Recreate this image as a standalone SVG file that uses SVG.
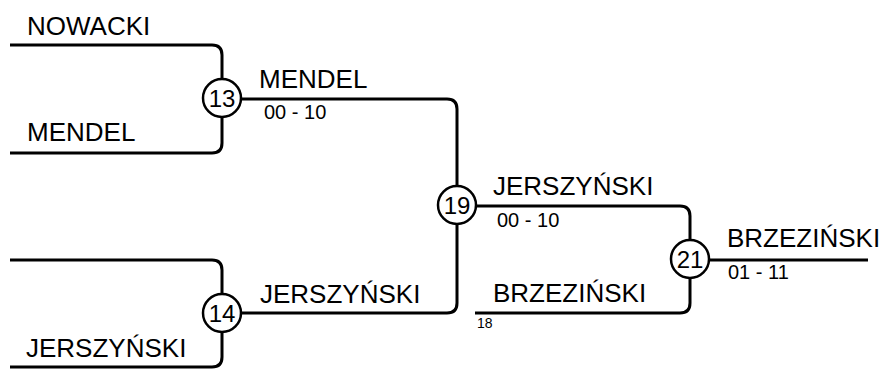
<svg xmlns="http://www.w3.org/2000/svg" width="882" height="372" viewBox="0 0 882 372">
<style>
.ln{fill:none;stroke:#000;stroke-width:3;stroke-linejoin:round}
.c{fill:#fff;stroke:#000;stroke-width:2.5}
.t{font-family:"Liberation Sans",Arial,sans-serif;font-size:26px;fill:#000}
.s{font-family:"Liberation Sans",Arial,sans-serif;font-size:20px;fill:#000}
.n{font-family:"Liberation Sans",Arial,sans-serif;font-size:24px;fill:#000;text-anchor:middle}
.x{font-family:"Liberation Sans",Arial,sans-serif;font-size:14px;fill:#000}
</style>
<rect width="882" height="372" fill="#fff"/>
<g id="connectors">
<path class="ln" d="M10 45 H212 Q222 45 222 55 V143 Q222 153 212 153 H10"/>
<path class="ln" d="M10 260 H212 Q222 260 222 270 V357 Q222 367 212 367 H10"/>
<path class="ln" d="M222 99 H447 Q457 99 457 109 V303 Q457 313 447 313 H222"/>
<path class="ln" d="M457 206 H680 Q690 206 690 216 V303 Q690 313 680 313 H475"/>
<path class="ln" d="M690 260 H868"/>
</g>
<g id="n13"><circle class="c" cx="222" cy="98" r="19"/><text class="n" x="222" y="107">13</text></g>
<g id="n14"><circle class="c" cx="222" cy="313" r="19"/><text class="n" x="222" y="322">14</text></g>
<g id="n19"><circle class="c" cx="457" cy="205" r="19"/><text class="n" x="457" y="214">19</text></g>
<g id="n21"><circle class="c" cx="690" cy="259" r="19"/><text class="n" x="690" y="268">21</text></g>
<g id="labels">
<text class="t" x="27" y="35">NOWACKI</text>
<text class="t" x="27" y="141">MENDEL</text>
<text class="t" x="259" y="88">MENDEL</text>
<text class="s" x="264" y="119">00 - 10</text>
<text class="t" x="26" y="357">JERSZYŃSKI</text>
<text class="t" x="260" y="303">JERSZYŃSKI</text>
<text class="t" x="493" y="195">JERSZYŃSKI</text>
<text class="s" x="497" y="227">00 - 10</text>
<text class="t" x="493" y="302">BRZEZIŃSKI</text>
<text class="x" x="477" y="328">18</text>
<text class="t" x="727" y="247">BRZEZIŃSKI</text>
<text class="s" x="728" y="279">01 - 11</text>
</g>
</svg>
